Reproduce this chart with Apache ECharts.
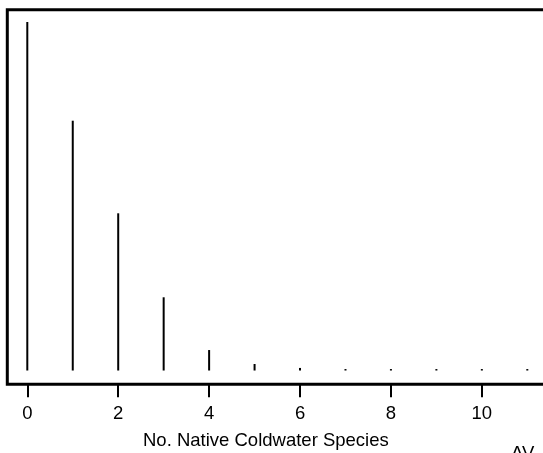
<!DOCTYPE html>
<html>
<head>
<meta charset="utf-8">
<script src="https://cdn.jsdelivr.net/npm/echarts@6/dist/echarts.min.js"></script>
<style>
  html, body { margin: 0; padding: 0; background: #fff; }
  #chart { width: 543px; height: 453px; }
</style>
</head>
<body>
<div id="chart"></div>
<script>
// number of native coldwater species and share of sites
const speciesCounts = [0, 1, 2, 3, 4, 5, 6, 7, 8, 9, 10, 11];
const siteShare = [0.405, 0.2903, 0.1827, 0.0851, 0.0238, 0.0076, 0.003, 0.0017, 0.0017, 0.0017, 0.0017, 0.0017];
const tickValues = [0, 2, 4, 6, 8, 10];
const xTitle = "No. Native Coldwater Species";
const cornerText = "AV";

const fontFamily = "Liberation Sans, Arial, sans-serif";

const chart = echarts.init(document.getElementById("chart"));

const option = {
  animation: false,
  backgroundColor: "#fff",
  grid: {
    left: 7.3,
    top: 9.7,
    width: 540,
    height: 374.5,
    outerBoundsMode: "none",
    containLabel: false,
    show: true,
    borderColor: "#000",
    borderWidth: 3,
    backgroundColor: "transparent",
  },
  xAxis: {
    type: "value",
    min: -0.44,
    max: 11.44,
    axisLine: { show: false, onZero: false },
    splitLine: { show: false },
    axisTick: {
      show: true,
      inside: false,
      length: 13,
      customValues: tickValues,
      lineStyle: { color: "#000", width: 2 },
    },
    axisLabel: {
      show: true,
      margin: 20,
      fontSize: 18.5,
      fontFamily: fontFamily,
      color: "#000",
      customValues: tickValues,
    },
  },
  yAxis: {
    type: "value",
    min: -0.0159,
    max: 0.4193,
    axisLine: { show: false },
    axisTick: { show: false },
    axisLabel: { show: false },
    splitLine: { show: false },
  },
  series: [
    {
      type: "bar",
      barWidth: 2,
      itemStyle: { color: "#000" },
      data: speciesCounts.map((c, i) => [c, siteShare[i]]),
    },
  ],
  graphic: [
    {
      type: "text",
      left: 265.5 - 122.5,
      top: 431,
      style: {
        text: xTitle,
        fontSize: 18.5,
        fontFamily: fontFamily,
        fill: "#000",
      },
    },
    {
      type: "text",
      left: 511,
      top: 444,
      style: {
        text: cornerText,
        fontSize: 18.5,
        fontFamily: fontFamily,
        fill: "#000",
      },
    },
  ],
};

chart.setOption(option);
</script>
</body>
</html>
